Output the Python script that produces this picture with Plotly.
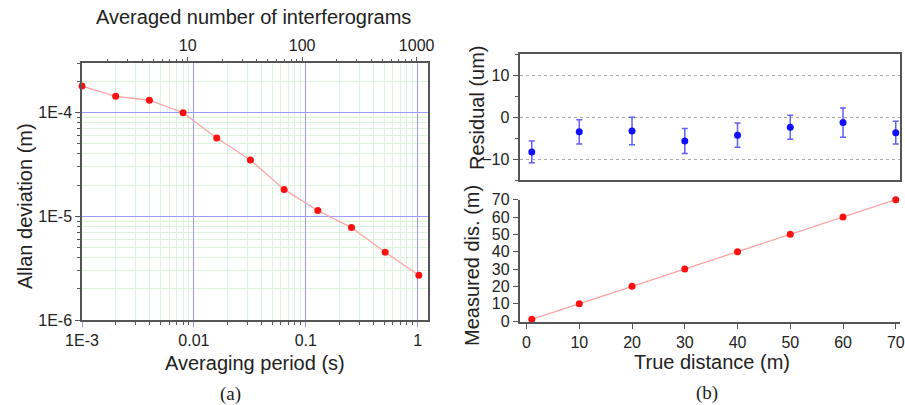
import plotly.graph_objs as go

# ----- data -----
# (a) Allan deviation vs averaging period
tau_s = [0.001, 0.002, 0.004, 0.008, 0.016, 0.032, 0.064, 0.128, 0.256, 0.512, 1.024]
allan_m = [1.81e-4, 1.44e-4, 1.32e-4, 1.0e-4, 5.7e-5, 3.5e-5, 1.82e-5, 1.14e-5, 7.8e-6, 4.5e-6, 2.7e-6]

# (b) distance test
true_dist = [1, 10, 20, 30, 40, 50, 60, 70]
residual_um = [-8.3, -3.5, -3.3, -5.7, -4.3, -2.4, -1.3, -3.7]
residual_err = [2.6, 2.9, 3.3, 3.0, 2.9, 2.85, 3.5, 2.7]
measured_m = [1, 10, 20, 30, 40, 50, 60, 70]

# tick labels
period_ticks = [0.001, 0.01, 0.1, 1]
period_text = ['1E-3', '0.01', '0.1', '1']
allan_ticks = [1e-6, 1e-5, 1e-4]
allan_text = ['1E-6', '1E-5', '1E-4']
count_ticks = [10, 100, 1000]
count_text = ['10', '100', '1000']

W, H = 905, 405
FONT = 'Liberation Sans, Arial, sans-serif'


def px(x):
    return x / W


def py(y):
    return 1 - y / H


def log_minors(lo, hi):
    # minor positions 2..9 for every decade between lo and hi (exponents)
    return [m * 10 ** e for e in range(lo, hi) for m in range(2, 10)]


# Set traces
data = []

trace = go.Scatter(x=tau_s, y=allan_m, mode='lines+markers', xaxis='x', yaxis='y',
                   line={'color': '#ffa3a3', 'width': 1.3},
                   marker={'color': '#ff1010', 'size': 7}, cliponaxis=False, showlegend=False)
data.append(trace)

# empty trace so the top (interferogram count) axis gets drawn; it sits on its own hidden y axis
trace = go.Scatter(x=count_ticks, y=[None] * len(count_ticks), xaxis='x2', yaxis='y5',
                   mode='markers', hoverinfo='skip', showlegend=False)
data.append(trace)

trace = go.Scatter(x=true_dist, y=residual_um, mode='markers', xaxis='x3', yaxis='y3',
                   marker={'color': '#1010ff', 'size': 7},
                   error_y={'type': 'data', 'array': residual_err, 'visible': True,
                            'color': '#5f5fff', 'thickness': 1.5, 'width': 3},
                   cliponaxis=False, showlegend=False)
data.append(trace)

trace = go.Scatter(x=true_dist, y=measured_m, mode='lines+markers', xaxis='x4', yaxis='y4',
                   line={'color': '#ffa3a3', 'width': 1.3},
                   marker={'color': '#ff1010', 'size': 7}, cliponaxis=False, showlegend=False)
data.append(trace)

tickfont = dict(family=FONT, size=16, color='#222')
major_grid = '#9a9aff'
minor_grid = '#dcf3dc'
frame = '#555'

layout = {
    'width': W, 'height': H,
    'margin': dict(l=0, r=0, t=0, b=0),
    'paper_bgcolor': 'white', 'plot_bgcolor': 'white',
    'font': dict(family=FONT, size=16, color='#222'),
    'showlegend': False,
    # ----- (a) -----
    'xaxis': dict(type='log', domain=[px(82), px(428)], range=[-3, 0.092], anchor='y',
                  automargin=False,
                  tickmode='array', tickvals=period_ticks, ticktext=period_text, tickfont=tickfont,
                  ticks='outside', ticklen=5, tickcolor=major_grid,
                  showline=True, linecolor=frame, linewidth=1.5, mirror=True,
                  showgrid=True, gridcolor=major_grid, gridwidth=1, zeroline=False,
                  minor=dict(tickmode='array', tickvals=log_minors(-3, 1), ticks='outside',
                             ticklen=3, tickcolor=frame, showgrid=True, gridcolor=minor_grid)),
    'yaxis': dict(type='log', domain=[py(320), py(63)], range=[-6, -3.52], anchor='x',
                  automargin=False,
                  tickmode='array', tickvals=allan_ticks, ticktext=allan_text, tickfont=tickfont,
                  ticks='outside', ticklen=5, tickcolor=frame,
                  showline=True, linecolor=frame, linewidth=1.5, mirror=True,
                  showgrid=True, gridcolor=major_grid, gridwidth=1, zeroline=False,
                  minor=dict(tickmode='array', tickvals=log_minors(-6, -3), ticks='outside',
                             ticklen=3, tickcolor=frame, showgrid=True, gridcolor=minor_grid)),
    'xaxis2': dict(type='log', overlaying='x', side='top', anchor='y5', automargin=False,
                   range=[0.077, 3.099], tickmode='array', tickvals=count_ticks,
                   ticktext=count_text, tickfont=tickfont,
                   ticks='outside', ticklen=5, tickcolor=frame,
                   showgrid=False, zeroline=False, showline=False,
                   minor=dict(tickmode='array', tickvals=log_minors(0, 4), ticks='outside',
                              ticklen=3, tickcolor=frame, showgrid=False)),
    'yaxis5': dict(overlaying='y', anchor='x2', visible=False, showgrid=False,
                   zeroline=False, automargin=False),
    # ----- (b) upper: residual -----
    'xaxis3': dict(domain=[px(519.5), px(900)], range=[-1.33, 70.8], anchor='y3',
                   automargin=False,
                   showticklabels=False, ticks='', showgrid=False, zeroline=False,
                   showline=True, linecolor=frame, linewidth=2, mirror=True),
    'yaxis3': dict(domain=[py(180), py(54.3)], range=[-15, 15], anchor='x3',
                   automargin=False,
                   tickvals=[-10, 0, 10], tickfont=tickfont,
                   ticks='outside', ticklen=5, tickcolor=frame,
                   showline=True, linecolor=frame, linewidth=2, mirror=True,
                   showgrid=True, gridcolor='#aaa', griddash='dot', gridwidth=1,
                   zeroline=False,
                   minor=dict(tickvals=[-15, -5, 5, 15], ticks='outside', ticklen=3,
                              tickcolor=frame, showgrid=False)),
    # ----- (b) lower: measured vs true -----
    'xaxis4': dict(domain=[px(519.5), px(900)], range=[-1.33, 70.8], anchor='y4',
                   automargin=False,
                   dtick=10, tickfont=tickfont, ticks='outside', ticklen=5, tickcolor=frame,
                   showline=True, linecolor=frame, linewidth=1.5, mirror=False,
                   showgrid=False, zeroline=False),
    'yaxis4': dict(domain=[py(322.3), py(199.7)], range=[-0.75, 70], anchor='x4',
                   automargin=False,
                   dtick=10, tickfont=tickfont, ticks='outside', ticklen=5, tickcolor=frame,
                   showline=True, linecolor=frame, linewidth=1.5, mirror=False,
                   showgrid=False, zeroline=False),
}

fig = go.Figure(data=data, layout=layout)

# Axis titles and panel captions
title_font = dict(family=FONT, size=20, color='#222')
caption_font = dict(family='Liberation Serif, Times New Roman, serif', size=19, color='#222')
notes = [
    ('Averaged number of interferograms', 254, 17, 0, title_font),
    ('Averaging period (s)', 255, 363, 0, title_font),
    ('Allan deviation (m)', 25, 206, -90, title_font),
    ('Residual (um)', 477, 108, -90, title_font),
    ('Measured dis. (m)', 472, 266, -90, title_font),
    ('True distance (m)', 712, 362, 0, title_font),
    ('(a)', 230, 394, 0, caption_font),
    ('(b)', 707, 393, 0, caption_font),
]
for text, x, y, angle, font in notes:
    fig.add_annotation(text=text, x=px(x), y=py(y), xref='paper', yref='paper',
                       xanchor='center', yanchor='middle', showarrow=False,
                       textangle=angle, font=font)

# Page body has a default 8px margin; drop it so the figure sits at the window corner
fig.write_html("out.html", config={'displayModeBar': False},
               post_script="document.body.style.margin='0px';")
